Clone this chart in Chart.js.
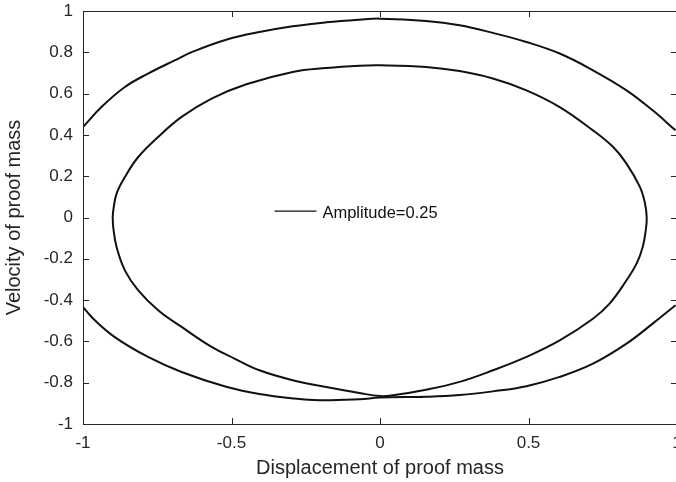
<!DOCTYPE html>
<html>
<head>
<meta charset="utf-8">
<script src="https://cdn.jsdelivr.net/npm/chart.js@4.4.0/dist/chart.umd.min.js"></script>
<style>
  html, body { margin: 0; padding: 0; background: #fff; }
  #wrap { width: 676px; height: 482px; overflow: hidden; }
</style>
</head>
<body>
<div id="wrap"><canvas id="chart" width="690" height="482"></canvas></div>
<script>
'use strict'

// ------------- data ------------- //
var xTicks = [-1, -0.5, 0, 0.5, 1];
var xTickLabels = ['-1', '-0.5', '0', '0.5', '1'];
var yTicks = [-1, -0.8, -0.6, -0.4, -0.2, 0, 0.2, 0.4, 0.6, 0.8, 1];
var yTickLabels = ['-1', '-0.8', '-0.6', '-0.4', '-0.2', '0', '0.2', '0.4', '0.6', '0.8', '1'];
var legendLabel = 'Amplitude=0.25';

// outer trajectory, upper arc then lower arc (it leaves the box at x = +-1)
var outerUpperX = [-1.0, -0.938, -0.859, -0.781, -0.691, -0.63, -0.518, -0.406, -0.294, -0.181, -0.069, 0, 0.155, 0.268, 0.38, 0.493, 0.605, 0.717, 0.83, 0.918, 0.995];
var outerUpperY = [0.438, 0.535, 0.632, 0.697, 0.761, 0.803, 0.861, 0.898, 0.926, 0.945, 0.958, 0.963, 0.952, 0.931, 0.894, 0.85, 0.794, 0.713, 0.616, 0.519, 0.422];
var outerLowerX = [-1.0, -0.967, -0.893, -0.781, -0.668, -0.518, -0.406, -0.294, -0.204, -0.069, 0, 0.155, 0.268, 0.38, 0.493, 0.605, 0.717, 0.83, 0.918, 0.995];
var outerLowerY = [-0.433, -0.488, -0.579, -0.675, -0.748, -0.82, -0.855, -0.876, -0.885, -0.88, -0.872, -0.868, -0.86, -0.842, -0.817, -0.772, -0.708, -0.611, -0.514, -0.425];

// inner closed loop, clockwise from the leftmost point
var innerX = [-0.9, -0.898, -0.887, -0.859, -0.814, -0.747, -0.668, -0.567, -0.45, -0.294, -0.181, -0.069, 0, 0.155, 0.268, 0.38, 0.493, 0.605, 0.717, 0.785, 0.83, 0.875, 0.892, 0.898, 0.895, 0.885, 0.865, 0.83, 0.773, 0.717, 0.605, 0.493, 0.38, 0.268, 0.155, 0.043, 0, -0.069, -0.181, -0.294, -0.406, -0.49, -0.567, -0.668, -0.747, -0.814, -0.859, -0.887, -0.898, -0.9];
var innerY = [0, 0.035, 0.116, 0.196, 0.293, 0.39, 0.487, 0.576, 0.645, 0.705, 0.724, 0.735, 0.737, 0.729, 0.709, 0.673, 0.616, 0.535, 0.422, 0.341, 0.261, 0.148, 0.07, 0, -0.06, -0.14, -0.22, -0.304, -0.417, -0.49, -0.595, -0.675, -0.74, -0.796, -0.834, -0.861, -0.865, -0.85, -0.821, -0.788, -0.74, -0.683, -0.627, -0.53, -0.449, -0.353, -0.256, -0.143, -0.05, 0];

function toPoints(xs, ys) {
  var pts = [];
  for (let k = 0; k < xs.length; k++)
    pts.push({x: xs[k], y: ys[k]});
  return pts;
}

var outerPts = toPoints(outerUpperX, outerUpperY);
outerPts.push({x: 1, y: null});           // break between the two arcs
outerPts = outerPts.concat(toPoints(outerLowerX, outerLowerY));

var AXIS_COLOR = '#262626';
var FONT = 'Arial, "Liberation Sans", Helvetica, sans-serif';

// MATLAB-like box with inward ticks on all four sides + inline legend
var boxPlugin = {
  id: 'matlabBox',
  afterDraw: function(chart) {
    var c = chart.ctx, a = chart.chartArea;
    var xs = chart.scales.x, ys = chart.scales.y;
    var tl = 6;
    c.save();
    c.strokeStyle = AXIS_COLOR;
    c.lineWidth = 1;
    c.strokeRect(a.left + 0.5, a.top + 0.5, a.right - a.left, a.bottom - a.top);
    c.beginPath();
    xTicks.forEach(function(v) {
      var px = Math.round(xs.getPixelForValue(v)) + 0.5;
      c.moveTo(px, a.bottom); c.lineTo(px, a.bottom - tl);
      c.moveTo(px, a.top); c.lineTo(px, a.top + tl);
    });
    yTicks.forEach(function(v) {
      var py = Math.round(ys.getPixelForValue(v)) + 0.5;
      c.moveTo(a.left, py); c.lineTo(a.left + tl, py);
      c.moveTo(a.right, py); c.lineTo(a.right - tl, py);
    });
    c.stroke();

    // legend entry (no frame), anchored in data units
    var lx0 = xs.getPixelForValue(-0.355);
    var lx1 = xs.getPixelForValue(-0.214);
    var ly = ys.getPixelForValue(0.031);
    c.strokeStyle = '#111';
    c.lineWidth = 1.3;
    c.beginPath();
    c.moveTo(lx0, ly); c.lineTo(lx1, ly);
    c.stroke();
    c.fillStyle = '#111';
    c.font = '16.5px ' + FONT;
    c.textBaseline = 'middle';
    c.fillText(legendLabel, lx1 + 6, ly + 2);
    c.restore();
  }
};

function initChart() {
  var ctx = document.getElementById('chart').getContext('2d');
  new Chart(ctx, {
    type: 'scatter',
    data: {
      datasets: [{
        label: legendLabel,
        data: toPoints(innerX, innerY),
        showLine: true,
        borderColor: '#111',
        borderWidth: 2,
        pointRadius: 0,
        tension: 0.4,
        fill: false
      }, {
        label: 'outer',
        data: outerPts,
        showLine: true,
        spanGaps: false,
        borderColor: '#111',
        borderWidth: 2,
        pointRadius: 0,
        tension: 0.4,
        fill: false
      }]
    },
    options: {
      responsive: false,
      animation: false,
      layout: { padding: { left: 0, right: 13, top: 11, bottom: 0 } },
      plugins: { legend: { display: false }, tooltip: { enabled: false } },
      scales: {
        x: {
          type: 'linear', min: -1, max: 1,
          afterBuildTicks: function(s) { s.ticks = xTicks.map(function(v) { return {value: v}; }); },
          afterFit: function(s) { s.height = 58; s.paddingLeft = 0; s.paddingRight = 0; },
          grid: { display: false, drawTicks: false },
          border: { display: false },
          ticks: { color: AXIS_COLOR, padding: 9, maxRotation: 0, font: { family: FONT, size: 17 },
                   callback: function(v, i) { return xTickLabels[i]; } },
          title: { display: true, text: 'Displacement of proof mass', color: AXIS_COLOR,
                   padding: { top: 4, bottom: 2 }, font: { family: FONT, size: 20 } }
        },
        y: {
          type: 'linear', min: -1, max: 1,
          afterBuildTicks: function(s) { s.ticks = yTicks.map(function(v) { return {value: v}; }); },
          afterFit: function(s) { s.width = 83; s.paddingTop = 0; s.paddingBottom = 0; },
          grid: { display: false, drawTicks: false },
          border: { display: false },
          ticks: { color: AXIS_COLOR, padding: 10, font: { family: FONT, size: 17 },
                   callback: function(v, i) { return yTickLabels[i]; } },
          title: { display: true, text: 'Velocity of proof mass', color: AXIS_COLOR,
                   padding: { top: 2, bottom: 0 }, font: { family: FONT, size: 20 } }
        }
      }
    },
    plugins: [boxPlugin]
  });
}

initChart();
</script>
</body>
</html>
